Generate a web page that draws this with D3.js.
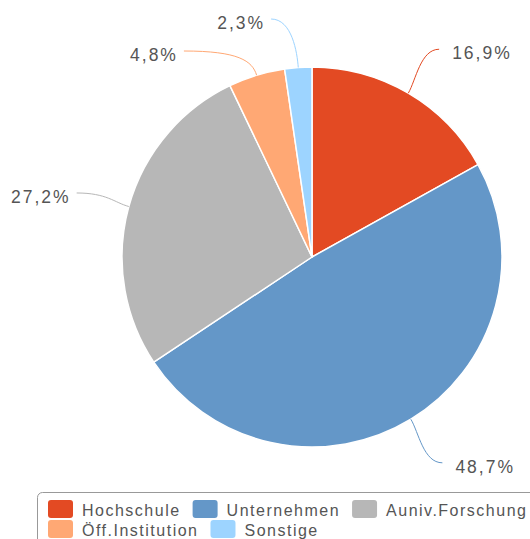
<!DOCTYPE html>
<html>
<head>
<meta charset="utf-8">
<script src="https://cdn.jsdelivr.net/npm/d3@7"></script>
<style>
  body { margin: 0; background: #fff; }
  svg { display: block; font-family: "Liberation Sans", Arial, sans-serif; }
</style>
</head>
<body>
<div id="chart"></div>
<script>
// data of the chart
var categories = ["Hochschule", "Unternehmen", "Auniv.Forschung", "Öff.Institution", "Sonstige"];
var values = [16.9, 48.7, 27.2, 4.8, 2.3];
var colors = ["#e34a23", "#6497c8", "#b7b7b7", "#ffa874", "#9dd4ff"];

window.onload = function() {
    var width = 530;
    var height = 539;

    // pie placement
    var cx = 312;
    var cy = 257;
    var radius = 190;
    var labelR = 241;
    var labelGap = 32;

    var svg = d3.select("#chart")
                .append("svg")
                .attr("width", width)
                .attr("height", height);

    var pie = d3.pie()
                .value(function(d) { return d.value; })
                .sort(null);

    var arc = d3.arc()
                .innerRadius(0)
                .outerRadius(radius);

    var rows = categories.map(function(c, i) {
        return { name: c, value: values[i], color: colors[i] };
    });
    var arcs = pie(rows);

    var g = svg.append("g")
               .attr("transform", "translate(" + cx + "," + cy + ")");

    g.selectAll("path.slice")
     .data(arcs)
     .enter()
     .append("path")
     .attr("class", "slice")
     .attr("d", arc)
     .attr("fill", function(d) { return d.data.color; })
     .attr("stroke", "#fff")
     .attr("stroke-width", 1.5)
     .attr("stroke-linejoin", "round");

    // label positions, placed on a bigger circle and pushed apart per side
    var labels = arcs.map(function(d) {
        var a = (d.startAngle + d.endAngle) / 2;
        return {
            d: d,
            angle: a,
            side: Math.sin(a) >= 0 ? 1 : -1,
            y: -labelR * Math.cos(a)
        };
    });

    [1, -1].forEach(function(side) {
        var list = labels.filter(function(l) { return l.side === side; })
                         .sort(function(a, b) { return a.y - b.y; });
        var minY = 19 - cy;
        list.forEach(function(l) {
            if (l.y < minY) l.y = minY;
            minY = l.y + labelGap;
        });
    });

    labels.forEach(function(l) {
        var dy = Math.max(-labelR, Math.min(labelR, l.y));
        l.x = l.side * Math.sqrt(labelR * labelR - dy * dy) + (l.side > 0 ? 5 : -3);
        l.touch = [radius * Math.sin(l.angle), -radius * Math.cos(l.angle)];
        l.brk = [(radius + 15) * Math.sin(l.angle), -(radius + 15) * Math.cos(l.angle)];
    });

    // connectors
    g.selectAll("path.connector")
     .data(labels)
     .enter()
     .append("path")
     .attr("class", "connector")
     .attr("fill", "none")
     .attr("stroke", function(l) { return l.d.data.color; })
     .attr("stroke-width", 1)
     .attr("d", function(l) {
         var p = d3.path();
         p.moveTo(l.x, l.y);
         p.bezierCurveTo(l.x + (l.brk[0] - l.x) * 0.8, l.y,
                         l.brk[0], l.brk[1],
                         l.touch[0], l.touch[1]);
         return p.toString();
     });

    g.selectAll("text.label")
     .data(labels)
     .enter()
     .append("text")
     .attr("class", "label")
     .attr("x", function(l) { return l.side > 0 ? l.x + 13 : l.x - 6; })
     .attr("y", function(l) { return l.y + 10; })
     .attr("text-anchor", function(l) { return l.side > 0 ? "start" : "end"; })
     .attr("font-size", "17.5px")
     .attr("letter-spacing", "2px")
     .attr("fill", "#555")
     .text(function(l) { return d3.format(".1f")(l.d.data.value).replace(".", ",") + "%"; });

    // legend
    var legend = svg.append("g").attr("class", "legend");
    legend.append("rect")
          .attr("x", 37.5)
          .attr("y", 492.5)
          .attr("width", 520)
          .attr("height", 80)
          .attr("rx", 5)
          .attr("fill", "none")
          .attr("stroke", "#999")
          .attr("stroke-width", 1);

    var lx = 48, ly = 500, startX = 48, maxX = 530;
    categories.forEach(function(c, i) {
        var item = legend.append("g");
        var t = item.append("text")
                    .attr("y", 16)
                    .attr("x", 34)
                    .attr("font-size", "16px")
                    .attr("letter-spacing", "1.5px")
                    .attr("fill", "#555")
                    .text(c);
        var w = 34 + t.node().getComputedTextLength();
        if (lx + w > maxX && lx > startX) {
            lx = startX;
            ly += 20;
        }
        item.attr("transform", "translate(" + lx + "," + ly + ")");
        item.insert("rect", "text")
            .attr("width", 25)
            .attr("height", 18)
            .attr("rx", 3)
            .attr("fill", colors[i]);
        lx += w + 12;
    });
};
</script>
</body>
</html>
